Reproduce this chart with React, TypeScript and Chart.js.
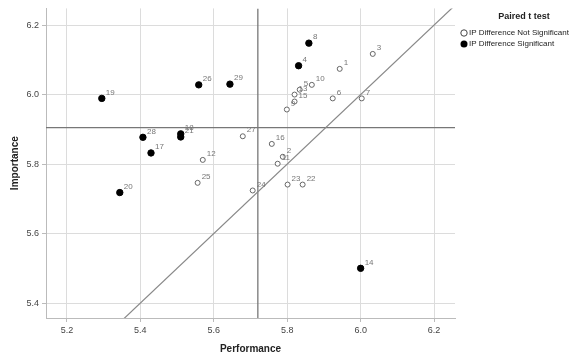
import React, { useEffect, useRef } from 'react';
import { Chart, registerables } from 'chart.js';
Chart.register(...registerables);

const xTicks = [5.2, 5.4, 5.6, 5.8, 6.0, 6.2];
const yTicks = [5.4, 5.6, 5.8, 6.0, 6.2];

// IP difference not significant (open markers)
const notSigIds = ['1', '2', '3', '5', '6', '7', '9', '10', '11', '12', '13', '15', '16', '22', '23', '24', '25', '27'];
const notSigPerf = [5.943, 5.788, 6.033, 5.834, 5.924, 6.003, 5.799, 5.867, 5.774, 5.570, 5.820, 5.820, 5.758, 5.842, 5.801, 5.706, 5.556, 5.679];
const notSigImp = [6.074, 5.821, 6.117, 6.014, 5.989, 5.989, 5.957, 6.028, 5.801, 5.812, 6.000, 5.980, 5.858, 5.741, 5.741, 5.724, 5.746, 5.880];

// IP difference significant (filled markers)
const sigIds = ['4', '8', '14', '17', '18', '19', '20', '21', '26', '28', '29'];
const sigPerf = [5.831, 5.859, 6.0, 5.429, 5.51, 5.295, 5.344, 5.51, 5.559, 5.407, 5.644];
const sigImp = [6.083, 6.148, 5.50, 5.832, 5.887, 5.989, 5.718, 5.878, 6.028, 5.877, 6.030];

const meanPerf = 5.72;
const meanImp = 5.905;
const diagonal = [5.2, 6.3];

const FONT = '"Liberation Sans", Arial, sans-serif';

export default function App() {
  const ref = useRef<HTMLCanvasElement>(null);
  useEffect(() => {
    document.body.style.margin = '0';
    const canvas = ref.current!;
    const labelPlugin = {
      id: 'extras',
      beforeDatasetsDraw(chart: any) {
        const { ctx, chartArea: a, scales } = chart;
        ctx.save();
        ctx.beginPath();
        ctx.rect(a.left, a.top, a.right - a.left, a.bottom - a.top);
        ctx.clip();
        ctx.strokeStyle = '#777';
        ctx.lineWidth = 1.3;
        const vx = scales.x.getPixelForValue(meanPerf);
        ctx.beginPath();
        ctx.moveTo(vx, a.top);
        ctx.lineTo(vx, a.bottom);
        ctx.stroke();
        const hy = scales.y.getPixelForValue(meanImp);
        ctx.beginPath();
        ctx.moveTo(a.left, hy);
        ctx.lineTo(a.right, hy);
        ctx.stroke();
        ctx.restore();
      },
      afterDatasetsDraw(chart: any) {
        const { ctx, scales } = chart;
        ctx.save();
        ctx.font = '8px ' + FONT;
        ctx.fillStyle = '#777';
        ctx.textAlign = 'left';
        ctx.textBaseline = 'middle';
        const draw = (ids: string[], xs: number[], ys: number[]) => {
          ids.forEach((id, i) => {
            const px = scales.x.getPixelForValue(xs[i]);
            const py = scales.y.getPixelForValue(ys[i]);
            ctx.fillText(id, px + 4, py - 6);
          });
        };
        draw(notSigIds, notSigPerf, notSigImp);
        draw(sigIds, sigPerf, sigImp);
        // legend
        ctx.fillStyle = '#222';
        ctx.font = 'bold 9px ' + FONT;
        ctx.textAlign = 'center';
        ctx.fillText('Paired t test', 524, 17);
        ctx.font = '8px ' + FONT;
        ctx.textAlign = 'left';
        ctx.beginPath();
        ctx.arc(464, 33, 3.2, 0, Math.PI * 2);
        ctx.fillStyle = '#fff';
        ctx.fill();
        ctx.strokeStyle = '#444';
        ctx.lineWidth = 1;
        ctx.stroke();
        ctx.beginPath();
        ctx.arc(464, 44, 3.5, 0, Math.PI * 2);
        ctx.fillStyle = '#000';
        ctx.fill();
        ctx.fillStyle = '#222';
        ctx.fillText('IP Difference Not Significant', 469, 33);
        ctx.fillText('IP Difference Significant', 469, 44);
        ctx.restore();
      },
    };
    const chart = new Chart(canvas, {
      type: 'scatter',
      data: {
        datasets: [
          {
            label: 'diag',
            type: 'line',
            data: diagonal.map((v) => ({ x: v, y: v })),
            borderColor: '#888',
            borderWidth: 1.2,
            pointRadius: 0,
            fill: false,
          } as any,
          {
            label: 'IP Difference Not Significant',
            data: notSigPerf.map((x, i) => ({ x, y: notSigImp[i] })),
            pointRadius: 2.5,
            pointBackgroundColor: '#fff',
            pointBorderColor: '#666',
            pointBorderWidth: 1,
          },
          {
            label: 'IP Difference Significant',
            data: sigPerf.map((x, i) => ({ x, y: sigImp[i] })),
            pointRadius: 3.2,
            pointBackgroundColor: '#000',
            pointBorderColor: '#000',
            pointBorderWidth: 1,
          },
        ],
      },
      options: {
        animation: false,
        responsive: false,
        layout: { padding: { top: 5, right: 132, left: 0, bottom: 0 } },
        plugins: { legend: { display: false }, tooltip: { enabled: false } },
        scales: {
          x: {
            type: 'linear',
            min: 5.143,
            max: 6.257,
            afterBuildTicks: (s: any) => { s.ticks = xTicks.map((v) => ({ value: v })); },
            afterFit: (s: any) => { s.height = 43; },
            ticks: { font: { size: 9, family: FONT }, color: '#444', padding: 3, callback: (v: any) => Number(v).toFixed(1) },
            grid: { color: '#dcdcdc', tickLength: 4, tickColor: '#bbb' },
            border: { color: '#bbb' },
            title: { display: true, text: 'Performance', font: { size: 10, weight: 'bold', family: FONT }, color: '#222', padding: { top: 0, bottom: 6 } },
          },
          y: {
            type: 'linear',
            min: 5.357,
            max: 6.248,
            afterBuildTicks: (s: any) => { s.ticks = yTicks.map((v) => ({ value: v })); },
            afterFit: (s: any) => { s.width = 46; },
            ticks: { font: { size: 9, family: FONT }, color: '#444', padding: 3, callback: (v: any) => Number(v).toFixed(1) },
            grid: { color: '#dcdcdc', tickLength: 4, tickColor: '#bbb' },
            border: { color: '#bbb' },
            title: { display: true, text: 'Importance', font: { size: 10, weight: 'bold', family: FONT }, color: '#222', padding: { top: 9, bottom: 0 } },
          },
        },
      },
      plugins: [labelPlugin],
    });
    return () => chart.destroy();
  }, []);
  return <canvas ref={ref} width={587} height={361} style={{ display: 'block' }} />;
}
